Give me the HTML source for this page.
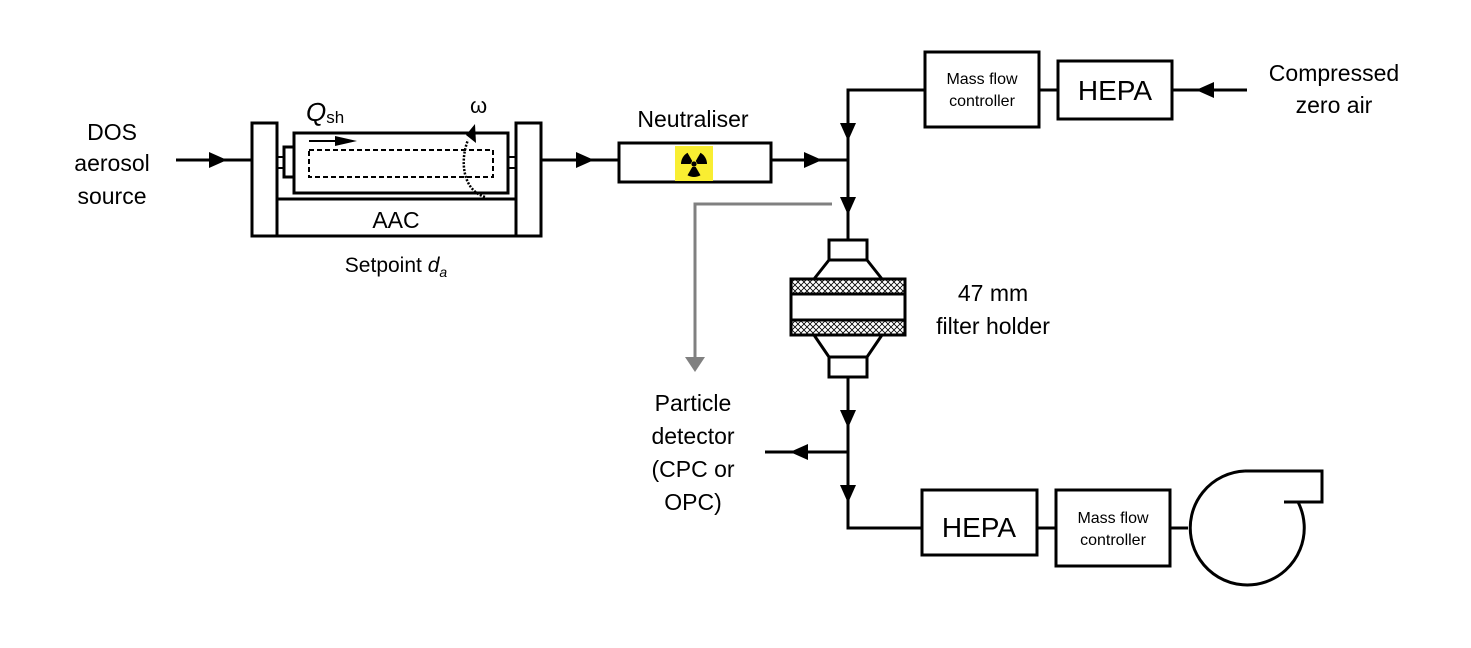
<!DOCTYPE html>
<html><head><meta charset="utf-8"><style>
html,body{margin:0;padding:0;background:#fff;}
svg{display:block;}
text{font-family:"Liberation Sans",Arial,sans-serif;fill:#000;}
</style></head><body>
<svg width="1471" height="648" viewBox="0 0 1471 648" xmlns="http://www.w3.org/2000/svg">
<defs>
<pattern id="mesh" width="6" height="6" patternUnits="userSpaceOnUse">
<path d="M0 0L6 6M6 0L0 6" stroke="#000" stroke-width="0.8"/>
</pattern>
</defs>
<g fill="none" stroke="#000" stroke-width="3">
<line x1="176" y1="160" x2="252" y2="160"/>
<rect x="252" y="123" width="25" height="113" fill="#fff"/>
<rect x="516" y="123" width="25" height="113" fill="#fff"/>
<rect x="277" y="199" width="239" height="37"/>
<rect x="294" y="133" width="214" height="60"/>
<rect x="284" y="147" width="10" height="30"/>
<rect x="277" y="157" width="7" height="11" stroke-width="2"/>
<rect x="508" y="157" width="8" height="11" stroke-width="2"/>
<rect x="309" y="150" width="184" height="27" stroke-dasharray="5,3" stroke-width="2"/>
<line x1="309" y1="141" x2="350" y2="141" stroke-width="2"/>
<path d="M485 197 C462 190 460 160 468 140" stroke-dasharray="2,1.5" stroke-width="2.5"/>
<line x1="541" y1="160" x2="619" y2="160"/>
<rect x="619" y="143" width="152" height="39"/>
<line x1="771" y1="160" x2="848" y2="160"/>
<polyline points="925,90 848,90 848,240"/>
<rect x="925" y="52" width="114" height="75"/>
<line x1="1039" y1="90" x2="1058" y2="90"/>
<rect x="1058" y="61" width="114" height="58"/>
<line x1="1172" y1="90" x2="1247" y2="90"/>
<rect x="829" y="240" width="38" height="20"/>
<path d="M829 260 L814 279 M867 260 L882 279 M814 335 L829 357 M882 335 L867 357"/>
<rect x="791" y="279" width="114" height="15" fill="url(#mesh)"/>
<rect x="791" y="294" width="114" height="26"/>
<rect x="791" y="320" width="114" height="15" fill="url(#mesh)"/>
<rect x="829" y="357" width="38" height="20"/>
<polyline points="848,377 848,528 922,528"/>
<line x1="848" y1="452" x2="765" y2="452"/>
<rect x="922" y="490" width="115" height="65"/>
<line x1="1037" y1="528" x2="1056" y2="528"/>
<rect x="1056" y="490" width="114" height="76"/>
<line x1="1170" y1="528" x2="1188" y2="528"/>
<path d="M1245 471 L1322 471 L1322 502 L1284 502"/>
<path d="M1245 471 A57 57 0 1 0 1298 502"/>
</g>
<polyline points="832,204 695,204 695,360" fill="none" stroke="#808080" stroke-width="3"/>
<polygon points="685,357 705,357 695,372" fill="#808080"/>
<g fill="#000">
<polygon points="209,152 209,168 227,160"/>
<polygon points="576,152 576,168 594,160"/>
<polygon points="804,152 804,168 822,160"/>
<polygon points="840,123 856,123 848,141"/>
<polygon points="840,197 856,197 848,215"/>
<polygon points="840,410 856,410 848,428"/>
<polygon points="840,485 856,485 848,503"/>
<polygon points="808,444 808,460 790,452"/>
<polygon points="1214,82 1214,98 1196,90"/>
<polygon points="335,136 335,146 357,141"/>
<polygon points="466,135 476,143 475,124"/>
</g>
<rect x="675" y="146" width="38" height="35" fill="#f9ee32"/>
<g transform="translate(694,164)" fill="#000">
<circle r="2.6"/>
<path d="M1.75 -3.03 L6.5 -11.26 A13 13 0 0 1 13 0 L3.5 0 Z"/>
<path d="M-1.75 -3.03 L-6.5 -11.26 A13 13 0 0 0 -13 0 L-3.5 0 Z"/>
<path d="M1.75 3.03 L6.5 11.26 A13 13 0 0 1 -6.5 11.26 L-1.75 3.03 Z"/>
</g>
<g font-size="23" text-anchor="middle">
<text x="112" y="140">DOS</text>
<text x="112" y="171">aerosol</text>
<text x="112" y="204">source</text>
<text x="396" y="228">AAC</text>
<text x="693" y="127">Neutraliser</text>
<text x="1334" y="81">Compressed</text>
<text x="1334" y="113">zero air</text>
<text x="993" y="301">47 mm</text>
<text x="993" y="334">filter holder</text>
<text x="693" y="411">Particle</text>
<text x="693" y="444">detector</text>
<text x="693" y="477">(CPC or</text>
<text x="693" y="510">OPC)</text>
<text x="979" y="537" font-size="28">HEPA</text>
<text x="1115" y="100" font-size="28">HEPA</text>
<text x="396" y="272" font-size="21">Setpoint <tspan font-style="italic">d</tspan><tspan font-style="italic" font-size="14" dy="5">a</tspan></text>
</g>
<g font-size="16" text-anchor="middle">
<text x="982" y="84">Mass flow</text>
<text x="982" y="106">controller</text>
<text x="1113" y="523">Mass flow</text>
<text x="1113" y="545">controller</text>
</g>
<text x="306" y="121" font-size="26" font-style="italic">Q<tspan font-size="17" font-style="normal" dy="2">sh</tspan></text>
<text x="470" y="113" font-size="22" font-family="'DejaVu Serif',serif">ω</text>
</svg>
</body></html>
